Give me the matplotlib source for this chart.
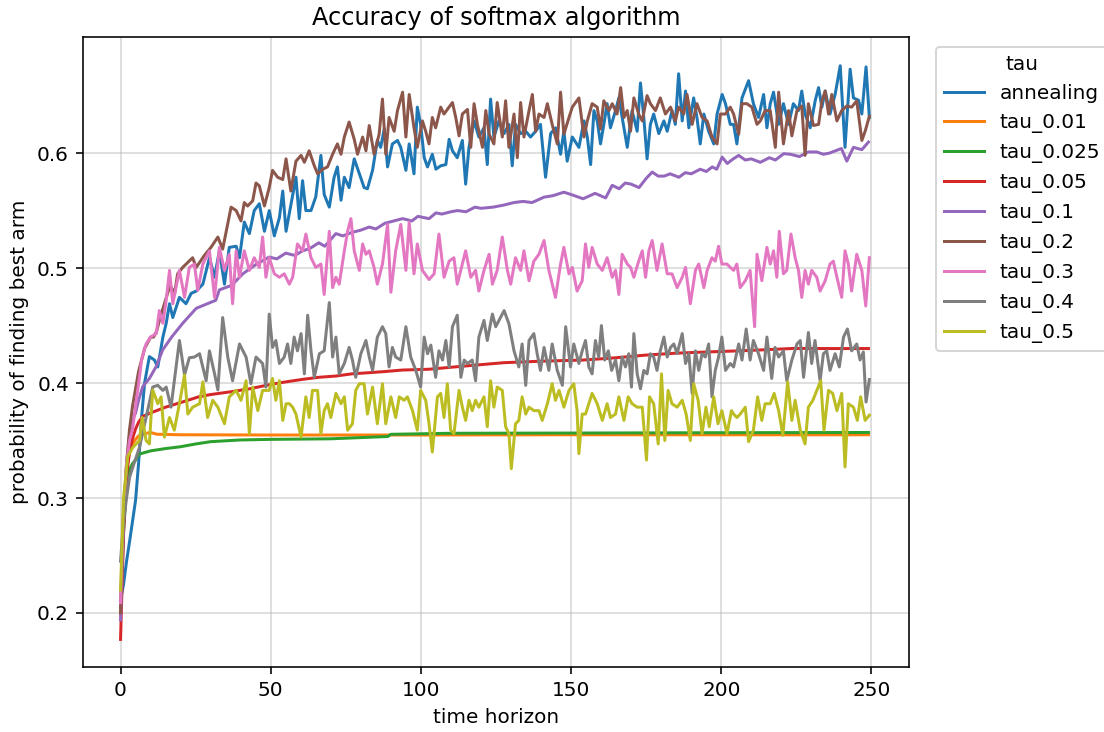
import matplotlib
matplotlib.use("Agg")
import matplotlib.pyplot as plt

# (time step, probability) pairs
annealing = [
    (0, .211), (1, .225), (2, .245), (3, .262), (4, .28), (5, .298), (6, .33), (7, .37), (8, .40),
    (9.6, .423), (11.3, .42), (12.4, .414), (14.1, .44), (15.2, .452), (16.3, .469), (17.4, .457),
    (19.6, .4745), (21.8, .469), (23.5, .478), (25.2, .48), (27.4, .486), (29.6, .509), (31.3, .492),
    (32.9, .515), (34.6, .486), (36.2, .518), (38.5, .519), (39.6, .509), (41.2, .54), (42.9, .53),
    (44.5, .55), (46.2, .556), (47.9, .532), (49.5, .55), (51.2, .528), (52.9, .544), (54.0, .567),
    (55.1, .532), (56.7, .555), (58.4, .579), (59.5, .543), (60.6, .576), (61.7, .55), (63.4, .55),
    (65.0, .562), (66.7, .598), (67.8, .564), (69.5, .553), (71.1, .579), (72.2, .588), (73.4, .559),
    (74.5, .579), (76.1, .57), (77.8, .595), (79.5, .582), (81.1, .57), (82.2, .569), (83.9, .585),
    (85.5, .611), (86.6, .605), (87.8, .621), (88.9, .588), (90.5, .608), (92.2, .611), (93.3, .605),
    (95.0, .585), (96.1, .608), (97.7, .582), (98.8, .64), (99.9, .625), (101.1, .596), (102.2, .588),
    (103.8, .599), (105.0, .586), (106.6, .589), (108.3, .59), (109.4, .612), (110.5, .602),
    (112.1, .596), (113.8, .611), (114.9, .573), (116.0, .605), (117.7, .628), (119.3, .614),
    (121.0, .622), (122.1, .59), (123.2, .647), (124.3, .614), (126.0, .628), (127.7, .617),
    (129.3, .625), (130.4, .589), (131.5, .625), (133.2, .617), (134.9, .619), (136.5, .614),
    (138.2, .619), (139.8, .625), (141.5, .579), (143.2, .617), (144.8, .622), (146.5, .599),
    (147.6, .619), (148.7, .593), (150.4, .614), (152.6, .605), (154.3, .628), (155.4, .614),
    (156.5, .59), (157.6, .637), (158.7, .628), (159.8, .608), (160.9, .625), (162.0, .643),
    (163.1, .622), (164.8, .637), (165.9, .648), (167.0, .631), (168.7, .605), (170.3, .637),
    (172.0, .619), (173.1, .661), (174.2, .631), (175.3, .595), (176.4, .625), (177.5, .634),
    (179.2, .617), (180.9, .628), (182.0, .619), (183.6, .637), (184.7, .625), (185.8, .669),
    (187.0, .628), (188.1, .654), (189.2, .622), (190.8, .648), (191.9, .631), (193.0, .608),
    (194.2, .634), (195.8, .619), (197.5, .608), (198.6, .634), (200.3, .651), (201.4, .643),
    (203.0, .625), (204.1, .625), (205.2, .608), (206.9, .648), (209.1, .663), (210.7, .643),
    (212.4, .631), (214.1, .651), (215.2, .622), (216.3, .643), (217.4, .653), (219.1, .625),
    (220.7, .643), (222.4, .625), (224.0, .643), (225.7, .637), (226.8, .654), (227.9, .634),
    (229.6, .622), (231.3, .646), (232.4, .657), (233.5, .64), (234.6, .654), (236.2, .634),
    (237.9, .651), (239.6, .676), (241.2, .605), (242.9, .673), (244.0, .648), (245.7, .646),
    (246.8, .634), (248.2, .675), (249.3, .631),
]

tau_001 = [
    (0, .2), (1, .29), (2, .325), (3, .34), (4, .347), (5, .351), (6, .354), (8, .356), (10, .357),
    (12, .3555), (20, .355), (50, .3548), (100, .3548), (150, .355), (200, .355), (249, .355),
]

tau_0025 = [
    (0, .2), (1, .27), (2, .31), (3, .325), (4, .33), (5, .333), (6, .338), (10, .341), (15, .343),
    (20, .3446), (25, .347), (30, .349), (40, .3505), (50, .351), (70, .3515), (89, .3535),
    (90, .3554), (110, .3563), (150, .3565), (200, .3568), (249, .357),
]

tau_005 = [
    (0, .177), (1, .27), (2, .32), (3, .34), (4, .352), (5, .36), (6, .366), (7.4, .371), (10, .374),
    (15, .379), (20, .383), (26, .388), (30, .39), (37, .3925), (43, .395), (50, .3988), (55, .401),
    (60.6, .4032), (66, .405), (71.7, .4061), (77, .408), (82.7, .409), (88, .41), (93.8, .4113),
    (102.7, .412), (112, .4142), (120, .416), (127.6, .4177), (140, .419), (154, .42), (165, .422),
    (174.8, .4243), (185, .426), (197, .4272), (205.8, .428), (215, .429), (224, .4301),
    (235, .43), (249, .43),
]

tau_01 = [
    (0, .194), (1, .28), (2, .33), (3, .355), (4, .368), (5, .374), (6, .385), (7.4, .397), (9.6, .404),
    (12, .415), (14, .4287), (17, .44), (20.7, .452), (25.2, .465), (31.7, .472), (32.9, .481),
    (37, .485), (40.7, .495), (45, .503), (49.5, .5096), (52, .508), (55, .513), (58, .511),
    (60.6, .515), (63, .517), (66, .522), (68, .519), (71.7, .53), (74, .528), (77, .531),
    (80, .533), (82.8, .5357), (85, .534), (88, .539), (91, .541), (93.9, .543), (97, .541),
    (99, .545), (102.7, .543), (105, .548), (107, .547), (110, .549), (112.2, .55), (115, .549),
    (118, .553), (120, .552), (124, .553), (127.6, .5548), (131, .557), (134, .558), (137, .557),
    (141, .5617), (144, .563), (147.6, .566), (150, .564), (154, .5603), (158, .565), (161.5, .561),
    (163.7, .572), (166, .569), (168, .574), (170, .573), (172.6, .57), (175, .578), (177, .5835),
    (179, .58), (181, .58), (183, .582), (185.9, .579), (188, .583), (190, .582), (193, .586),
    (195, .584), (197, .588), (198.5, .586), (200.3, .5965), (202, .591), (204, .595), (205.8, .598),
    (208, .594), (210, .595), (213, .592), (216, .596), (218, .594), (220.8, .5995), (223, .599),
    (226, .597), (229, .601), (231.8, .601), (234, .599), (236, .6), (238, .602), (240, .604),
    (241.8, .593), (244, .605), (246.8, .603), (249, .6096),
]

tau_02 = [
    (0, .2), (1, .28), (2, .33), (3, .36), (4, .38), (5, .395), (6, .41), (7, .42), (8, .43), (9, .435),
    (10, .44), (11, .44), (12, .445), (13, .455), (14.6, .469), (16.5, .485), (18, .478), (19, .495),
    (20.7, .5006), (24.0, .509), (25.2, .5006), (27.9, .511), (30.1, .518), (32.4, .527),
    (34.0, .5165), (36.8, .553), (38.5, .55), (40.1, .541), (41.2, .557), (42.3, .554), (44.0, .5585),
    (45.1, .574), (46.2, .5715), (47.9, .554), (49.5, .57), (50.6, .585), (52.3, .579), (54.0, .577),
    (55.1, .595), (56.7, .567), (58.4, .593), (60.1, .598), (61.2, .592), (62.8, .602), (64.5, .589),
    (65.6, .582), (67.3, .586), (68.9, .588), (70.6, .599), (72.2, .608), (73.4, .599), (74.5, .614),
    (76.1, .627), (77.8, .612), (78.9, .599), (80.6, .614), (81.7, .602), (82.8, .624), (84.4, .599),
    (86.1, .6165), (87.2, .647), (88.3, .599), (89.4, .631), (91.1, .619), (92.2, .637), (93.9, .653),
    (95.0, .614), (96.1, .651), (97.7, .622), (98.8, .605), (100.5, .628), (101.6, .619),
    (102.7, .608), (103.8, .631), (104.9, .622), (106.6, .64), (107.7, .634), (108.8, .638),
    (110.5, .644), (111.6, .631), (112.7, .615), (113.8, .634), (115.5, .638), (116.6, .605),
    (117.7, .643), (118.8, .625), (120.5, .605), (121.6, .637), (122.7, .6165), (124.3, .608),
    (125.4, .644), (127.1, .614), (128.2, .6455), (129.3, .605), (131.0, .634), (132.1, .596),
    (133.2, .644), (134.3, .614), (136.0, .637), (137.1, .651), (138.2, .619), (139.3, .634),
    (141.0, .631), (142.1, .643), (143.7, .625), (145.4, .608), (146.5, .653), (147.6, .6165),
    (149.3, .631), (150.4, .64), (152.6, .648), (154.3, .614), (155.4, .628), (157.0, .643),
    (158.7, .64), (159.8, .621), (160.9, .6455), (162.6, .637), (163.7, .643), (165.3, .634),
    (166.5, .657), (167.6, .631), (168.7, .637), (169.8, .619), (170.9, .648), (172.5, .634),
    (173.7, .628), (175.3, .65), (176.4, .643), (178.1, .637), (179.7, .648), (181.4, .634),
    (183.1, .64), (184.7, .628), (185.8, .64), (187.5, .634), (188.6, .651), (190.3, .625),
    (191.9, .643), (193.6, .631), (195.3, .628), (196.9, .614), (198.6, .608), (199.7, .634),
    (201.4, .634), (203.0, .64), (204.1, .634), (205.8, .6165), (206.9, .643), (208.5, .643),
    (210.2, .64), (211.9, .625), (213.0, .628), (214.6, .637), (216.3, .637), (218.0, .605),
    (219.1, .653), (220.7, .608), (222.4, .637), (223.5, .615), (225.2, .637), (226.8, .641),
    (227.9, .598), (229.0, .643), (230.7, .624), (232.4, .625), (233.5, .6455), (234.6, .654),
    (235.7, .634), (236.8, .651), (238.5, .628), (240.1, .637), (241.8, .641), (243.4, .64),
    (245.1, .6455), (246.8, .611), (247.9, .619), (249.3, .632),
]

tau_03 = [
    (0, .209), (1, .29), (2, .33), (3, .35), (4, .36), (5, .38), (6.3, .405), (7, .42), (8.5, .434),
    (10, .44), (11.9, .443), (12.9, .463), (14.1, .452), (15.2, .472), (16.3, .498), (17.4, .469),
    (19.6, .498), (21.3, .4745), (22.9, .5006), (24.6, .5035), (25.7, .4805), (27.4, .5035),
    (29.6, .515), (31.3, .4745), (32.9, .518), (34.6, .498), (36.2, .512), (37.3, .469), (38.5, .515),
    (39.6, .492), (41.2, .515), (42.9, .498), (44.5, .509), (46.2, .5006), (47.3, .527), (48.4, .492),
    (49.5, .509), (51.2, .495), (52.9, .492), (54.5, .495), (56.2, .486), (57.3, .492), (58.9, .521),
    (60.6, .515), (61.7, .5296), (63.4, .509), (65.0, .5006), (66.7, .5035), (67.8, .477),
    (69.5, .532), (70.6, .483), (71.7, .492), (72.8, .486), (74.5, .515), (75.6, .532), (76.7, .543),
    (77.8, .515), (79.5, .498), (80.6, .521), (81.7, .512), (82.8, .515), (84.4, .5006), (85.5, .486),
    (87.2, .5035), (88.9, .538), (90.0, .479), (91.6, .515), (93.3, .538), (95.0, .498), (96.1, .54),
    (97.7, .495), (98.8, .521), (100.5, .498), (102.7, .49), (104.4, .495), (106.0, .5296),
    (107.7, .492), (109.4, .506), (111.0, .509), (112.1, .486), (113.8, .5035), (114.9, .515),
    (116.6, .492), (118.2, .498), (119.3, .48), (121.0, .498), (122.7, .512), (123.8, .486),
    (125.4, .498), (127.1, .527), (128.8, .498), (129.9, .486), (131.5, .509), (133.2, .498),
    (134.3, .515), (136.0, .489), (137.6, .506), (139.3, .512), (141.0, .524), (142.6, .498),
    (144.8, .4745), (146.5, .5035), (147.6, .518), (149.3, .495), (150.4, .5006), (152.0, .48),
    (153.7, .489), (154.8, .521), (155.9, .5006), (157.0, .518), (158.7, .5035), (160.4, .498),
    (162.0, .509), (163.7, .492), (164.8, .498), (165.9, .477), (167.0, .512), (168.7, .5035),
    (169.8, .5006), (170.9, .492), (172.5, .506), (173.7, .515), (174.8, .492), (175.9, .515),
    (177.0, .524), (178.6, .498), (180.3, .521), (182.0, .495), (183.6, .495), (185.3, .483),
    (187.0, .492), (188.1, .5006), (189.7, .469), (191.4, .498), (192.5, .5035), (194.2, .483),
    (195.3, .498), (196.9, .509), (198.0, .506), (199.1, .519), (200.2, .5035), (201.9, .5035),
    (203.0, .5006), (204.1, .498), (205.2, .5035), (206.3, .483), (208.0, .489), (209.6, .498),
    (211.1, .449), (211.9, .512), (213.5, .489), (215.2, .518), (216.3, .5035), (217.4, .515),
    (218.5, .492), (219.3, .532), (220.7, .495), (221.8, .498), (223.2, .5296), (224.6, .509),
    (225.7, .498), (226.8, .4745), (227.9, .498), (229.0, .486), (230.1, .498), (231.8, .492),
    (232.9, .48), (234.6, .489), (236.2, .5035), (237.3, .506), (238.5, .492), (240.1, .4745),
    (241.2, .515), (242.3, .5035), (243.4, .48), (245.1, .512), (246.8, .498), (248.1, .467),
    (249.3, .509),
]

tau_04 = [
    (0, .245), (1, .28), (2, .3), (3.0, .318), (4.1, .327), (6.3, .344), (8.5, .37), (10.7, .3965),
    (12.4, .398), (14.1, .3936), (15.2, .3965), (16.8, .379), (19.6, .437), (21.3, .407), (22.9, .422),
    (24.6, .4226), (26.3, .4255), (28.5, .402), (29.6, .428), (31.3, .408), (32.4, .394), (34.0, .457),
    (35.7, .4226), (37.3, .402), (39.6, .434), (41.8, .4226), (43.4, .3994), (45.1, .4226),
    (47.3, .417), (48.4, .3965), (49.5, .46), (50.6, .431), (51.7, .437), (52.9, .417), (54.5, .4226),
    (55.6, .434), (56.7, .417), (57.8, .44), (58.9, .428), (60.1, .443), (61.2, .408), (62.3, .459),
    (63.4, .428), (64.5, .405), (66.2, .4255), (67.8, .428), (69.5, .47), (70.6, .4226), (71.7, .44),
    (72.8, .408), (74.5, .417), (76.1, .431), (77.2, .42), (78.3, .405), (80.0, .4255), (81.7, .437),
    (82.8, .4226), (83.9, .411), (85.5, .44), (87.2, .449), (88.3, .443), (89.4, .414), (90.5, .431),
    (91.6, .4226), (93.3, .42), (95.0, .449), (96.6, .4226), (98.3, .411), (99.9, .3965),
    (101.1, .44), (102.2, .4255), (103.3, .433), (104.9, .405), (106.0, .428), (107.2, .42),
    (108.3, .437), (109.4, .414), (110.5, .449), (112.1, .459), (113.3, .405), (114.4, .42),
    (115.5, .417), (117.1, .42), (118.2, .402), (119.3, .44), (121.0, .4545), (122.1, .437),
    (123.8, .46), (124.9, .449), (126.0, .4545), (127.7, .463), (129.3, .4516), (131.0, .428),
    (132.6, .414), (133.7, .434), (134.9, .398), (136.0, .437), (137.6, .443), (138.7, .4255),
    (139.8, .411), (141.0, .431), (142.6, .411), (143.7, .434), (145.4, .411), (147.1, .398),
    (148.2, .449), (149.8, .414), (150.9, .434), (152.6, .417), (153.7, .428), (154.8, .437),
    (155.9, .414), (157.0, .408), (158.1, .437), (159.2, .4226), (160.1, .45), (161.2, .42),
    (162.4, .428), (163.5, .411), (164.8, .42), (165.9, .402), (167.0, .4226), (168.1, .414),
    (169.2, .4255), (170.1, .3965), (170.9, .443), (172.0, .408), (173.1, .395), (174.2, .411),
    (175.3, .408), (176.4, .4255), (177.5, .4226), (178.6, .411), (179.7, .428), (180.9, .44),
    (182.0, .4226), (183.1, .431), (184.2, .434), (185.3, .4255), (187.0, .443), (188.1, .417),
    (189.2, .4255), (190.3, .391), (191.4, .428), (192.5, .411), (193.6, .4255), (194.7, .4226),
    (195.8, .434), (196.9, .388), (198.0, .411), (199.1, .4226), (200.2, .44), (201.4, .411),
    (203.0, .417), (204.1, .414), (205.8, .434), (206.9, .42), (208.3, .447), (209.6, .42),
    (210.7, .437), (212.4, .4255), (214.1, .411), (215.2, .44), (216.8, .404), (217.9, .431),
    (219.1, .4226), (220.7, .428), (221.8, .402), (223.5, .42), (225.2, .434), (226.3, .437),
    (227.4, .405), (229.0, .444), (230.1, .417), (231.2, .437), (232.9, .402), (234.0, .4255),
    (235.1, .428), (236.2, .411), (237.9, .4255), (239.3, .414), (240.7, .44), (242.0, .447),
    (243.4, .428), (245.1, .434), (246.2, .42), (247.3, .427), (248.2, .3835), (249.3, .403),
]

tau_05 = [
    (0, .22), (1, .3), (2.4, .336), (4.1, .344), (5.2, .347), (6.3, .35), (7.2, .37), (8.5, .35),
    (9.6, .347), (10.7, .394), (12.4, .382), (13.5, .388), (14.6, .353), (16.3, .37), (17.9, .359),
    (19.6, .382), (21.3, .407), (22.4, .373), (24.0, .379), (26.3, .382), (27.4, .401), (29.0, .37),
    (30.7, .385), (32.4, .379), (34.6, .3646), (36.2, .388), (38.5, .3936), (40.1, .385),
    (41.8, .402), (42.9, .356), (44.0, .3965), (45.7, .376), (47.3, .3936), (49.5, .3936),
    (50.6, .404), (51.7, .385), (52.9, .402), (54.0, .3675), (55.1, .382), (56.2, .382), (57.3, .379),
    (58.4, .373), (60.1, .353), (61.7, .388), (62.8, .37), (63.9, .3936), (65.6, .3936), (66.7, .356),
    (67.8, .376), (68.9, .382), (70.0, .37), (71.7, .391), (73.4, .382), (74.5, .388), (75.6, .359),
    (77.2, .3646), (78.3, .3936), (79.5, .3994), (81.1, .3994), (82.2, .373), (83.9, .3965),
    (85.5, .3646), (87.2, .3994), (88.3, .3646), (90.0, .388), (91.6, .37), (92.8, .388),
    (94.4, .385), (95.5, .388), (97.2, .376), (98.8, .359), (99.9, .3936), (101.6, .385),
    (102.7, .3646), (103.8, .34), (105.5, .388), (106.6, .391), (107.7, .37), (108.8, .3994),
    (109.9, .359), (111.0, .356), (112.7, .3936), (113.8, .379), (114.9, .3675), (116.0, .385),
    (117.1, .376), (118.2, .385), (119.3, .379), (121.0, .388), (122.1, .362), (123.2, .402),
    (124.3, .379), (125.4, .3965), (127.1, .3936), (128.2, .362), (129.3, .356), (130.1, .3255),
    (131.5, .3646), (132.6, .3675), (133.7, .388), (134.9, .373), (136.0, .379), (137.6, .376),
    (139.3, .376), (140.4, .3675), (142.1, .382), (143.7, .3994), (144.8, .385), (146.0, .3936),
    (147.6, .379), (149.3, .3936), (150.9, .3994), (152.0, .376), (152.6, .3386), (153.7, .373),
    (154.8, .373), (157.0, .391), (158.7, .382), (160.4, .3675), (162.0, .382), (163.1, .37),
    (164.8, .373), (165.9, .388), (167.6, .3675), (169.0, .388), (170.3, .382), (172.0, .379),
    (173.7, .379), (175.1, .333), (176.1, .388), (177.5, .382), (179.0, .347), (180.1, .408),
    (181.2, .35), (182.3, .3936), (183.6, .382), (185.3, .379), (187.0, .385), (188.3, .373),
    (189.7, .35), (190.8, .3994), (192.3, .385), (193.6, .356), (194.9, .379), (196.0, .362),
    (197.5, .388), (198.9, .3646), (200.2, .376), (201.9, .356), (203.4, .376), (204.1, .373),
    (205.2, .37), (206.3, .373), (208.0, .379), (209.1, .349), (210.7, .359), (212.1, .388),
    (213.5, .3675), (214.6, .382), (216.3, .382), (217.6, .391), (219.1, .376), (220.5, .3545),
    (222.1, .401), (223.5, .3675), (224.6, .385), (226.3, .359), (227.9, .347), (229.0, .379),
    (230.5, .385), (231.8, .3936), (233.1, .402), (234.2, .359), (235.7, .3936), (237.1, .391),
    (238.5, .376), (240.1, .391), (241.2, .327), (242.3, .382), (244.0, .379), (245.3, .3675),
    (246.4, .388), (247.9, .3675), (249.3, .372),
]

series_names = ["annealing", "tau_0.01", "tau_0.025", "tau_0.05", "tau_0.1",
                "tau_0.2", "tau_0.3", "tau_0.4", "tau_0.5"]
series_data = [annealing, tau_001, tau_0025, tau_005, tau_01,
               tau_02, tau_03, tau_04, tau_05]

fig = plt.figure(figsize=(1104 / 144, 732 / 144), dpi=144)
ax = fig.add_axes([83 / 1104, 65 / 732, 826 / 1104, 630 / 732])

for name, pts in zip(series_names, series_data):
    ts = [p[0] for p in pts]
    vs = [p[1] for p in pts]
    ax.plot(ts, vs, linewidth=1.5, label=name)

ax.set_title("Accuracy of softmax algorithm")
ax.set_xlabel("time horizon")
ax.set_ylabel("probability of finding best arm")
ax.set_xticks([0, 50, 100, 150, 200, 250])
ax.set_yticks([0.2, 0.3, 0.4, 0.5, 0.6])
ax.set_xlim(-12.5, 262.5)
ax.set_ylim(0.153, 0.701)
ax.grid(True, alpha=0.5)
ax.legend(title="tau", loc="upper left", bbox_to_anchor=(1.02, 1))

fig.savefig("out.png", dpi=144)
